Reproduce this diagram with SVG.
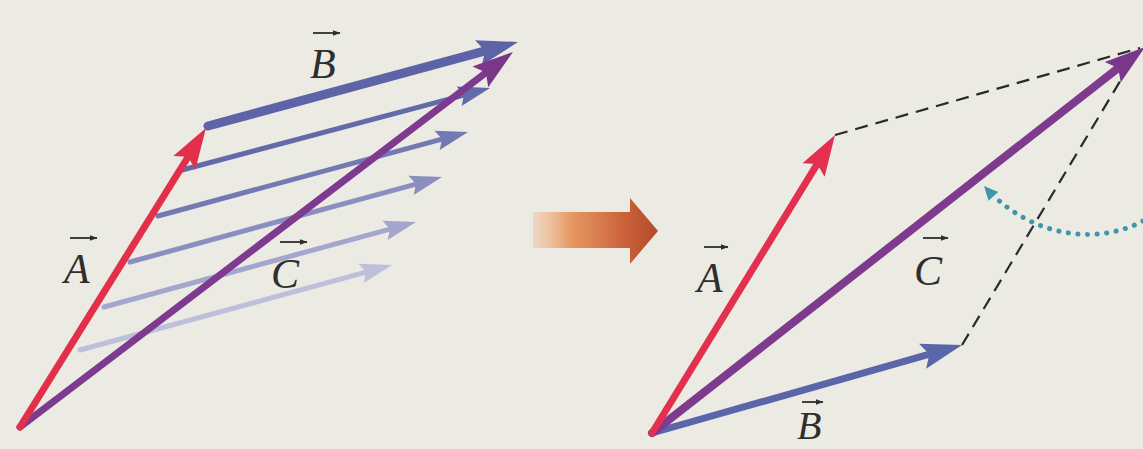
<svg xmlns="http://www.w3.org/2000/svg" xmlns:xlink="http://www.w3.org/1999/xlink" width="1143" height="449" viewBox="0 0 1143 449">
  <style>
    .lbl { font-family: "Liberation Serif", "Times New Roman", serif; font-style: italic; font-size: 42px; fill: #2e2e2e; }
    .over { stroke: #2e2e2e; stroke-width: 1.8; fill: none; marker-end: url(#overHead); }
    .vec { fill: none; stroke-linecap: round; }
    .dash { fill: none; stroke: #2a2a2a; stroke-width: 2.2; stroke-dasharray: 13 8; }
  </style>
  <defs>
    <path id="hd" d="M0,0 L-41,-13 L-34,0 L-41,13 Z"/>
    <path id="hs" d="M0,0 L-32,-10 L-27,0 L-32,10 Z"/>
    <path id="hc" d="M0,0 L-14,-6.5 L-14,6.5 Z"/>
    <marker id="overHead" viewBox="0 0 8 6" refX="7.5" refY="3" markerWidth="8" markerHeight="6" markerUnits="userSpaceOnUse" orient="auto">
      <path d="M0,0 L8,3 L0,6 Z" fill="#2e2e2e"/>
    </marker>
    <linearGradient id="orangeGrad" x1="533" y1="0" x2="658" y2="0" gradientUnits="userSpaceOnUse">
      <stop offset="0" stop-color="#f2c3a0" stop-opacity="0.5"/>
      <stop offset="0.3" stop-color="#e69a63"/>
      <stop offset="0.75" stop-color="#c9603a"/>
      <stop offset="1" stop-color="#b24a2a"/>
    </linearGradient>
  </defs>

  <rect x="0" y="0" width="1143" height="449" fill="#ebeae3"/>

  <!-- LEFT DIAGRAM -->
  <g id="left-diagram">
    <g id="left-B-copies">
      <g id="copy5">
        <line class="vec" x1="80" y1="350" x2="368.8" y2="271.3" stroke="#bdbfdb" stroke-width="5"/>
        <use xlink:href="#hs" transform="translate(392,265) rotate(-15.2)" fill="#bdbfdb"/>
      </g>
      <g id="copy4">
        <line class="vec" x1="104" y1="307" x2="392.8" y2="228.3" stroke="#a4a7cd" stroke-width="5"/>
        <use xlink:href="#hs" transform="translate(416,222) rotate(-15.2)" fill="#a4a7cd"/>
      </g>
      <g id="copy3">
        <line class="vec" x1="130" y1="262" x2="418.8" y2="183.3" stroke="#8a8fc0" stroke-width="5"/>
        <use xlink:href="#hs" transform="translate(442,177) rotate(-15.2)" fill="#8a8fc0"/>
      </g>
      <g id="copy2">
        <line class="vec" x1="158" y1="216" x2="444.8" y2="138.3" stroke="#7379b2" stroke-width="5"/>
        <use xlink:href="#hs" transform="translate(468,132) rotate(-15.2)" fill="#7379b2"/>
      </g>
      <g id="copy1">
        <line class="vec" x1="182" y1="170" x2="466.8" y2="94.3" stroke="#636aa9" stroke-width="5"/>
        <use xlink:href="#hs" transform="translate(490,88) rotate(-15)" fill="#636aa9"/>
      </g>
    </g>
    <g id="left-B">
      <line class="vec" x1="208" y1="126" x2="489" y2="49.8" stroke="#5c63a6" stroke-width="9"/>
      <use xlink:href="#hd" transform="translate(518,42) rotate(-15.16)" fill="#5c63a6"/>
    </g>
    <g id="left-C">
      <line class="vec" x1="20" y1="427" x2="489.1" y2="70.2" stroke="#7d3a8e" stroke-width="7"/>
      <use xlink:href="#hd" transform="translate(513,52) rotate(-37.26)" fill="#7a3688"/>
    </g>
    <g id="left-A">
      <line class="vec" x1="20" y1="427" x2="190.2" y2="153.5" stroke="#e2304b" stroke-width="7"/>
      <use xlink:href="#hd" transform="translate(206,128) rotate(-58.1)" fill="#e2304b"/>
    </g>
    <g id="left-labels">
      <text class="lbl" x="310" y="78">B</text>
      <path class="over" d="M313,33 H340"/>
      <text class="lbl" x="64" y="283">A</text>
      <path class="over" d="M70,238 H97"/>
      <text class="lbl" x="271" y="288">C</text>
      <path class="over" d="M280,242 H307"/>
    </g>
  </g>

  <!-- TRANSITION ARROW -->
  <g id="transition-arrow">
    <polygon points="533,212 630,212 630,198 658,231 630,264 630,248 533,248" fill="url(#orangeGrad)"/>
  </g>

  <!-- RIGHT DIAGRAM -->
  <g id="right-diagram">
    <g id="connectors">
      <line class="dash" x1="835" y1="135" x2="1140" y2="48"/>
      <line class="dash" x1="962" y1="345" x2="1134" y2="58"/>
      <path id="rotation-arrow" d="M1143,221 C1100,244 1040,238 996,198" fill="none" stroke="#3d96aa" stroke-width="5" stroke-linecap="round" stroke-dasharray="0.1 9.5"/>
      <use xlink:href="#hc" transform="translate(984,186) rotate(-132)" fill="#3d96aa"/>
    </g>
    <g id="right-B">
      <line class="vec" x1="652" y1="433" x2="933.1" y2="353.2" stroke="#5a65aa" stroke-width="7"/>
      <use xlink:href="#hd" transform="translate(962,345) rotate(-15.85)" fill="#5a65aa"/>
    </g>
    <g id="right-C">
      <line class="vec" x1="652" y1="433" x2="1121.4" y2="65.5" stroke="#7e3a8c" stroke-width="8"/>
      <use xlink:href="#hd" transform="translate(1145,47) rotate(-38.06)" fill="#7a3688"/>
    </g>
    <g id="right-A">
      <line class="vec" x1="652" y1="433" x2="819.3" y2="160.6" stroke="#e3304f" stroke-width="7"/>
      <use xlink:href="#hd" transform="translate(835,135) rotate(-58.45)" fill="#e3304f"/>
    </g>
    <g id="right-labels">
      <text class="lbl" x="697" y="292">A</text>
      <path class="over" d="M704,247 H728"/>
      <text class="lbl" x="914" y="285">C</text>
      <path class="over" d="M923,238 H948"/>
      <text class="lbl" x="797" y="439" style="font-size:40px">B</text>
      <path class="over" d="M802,402 H823"/>
    </g>
  </g>
</svg>
